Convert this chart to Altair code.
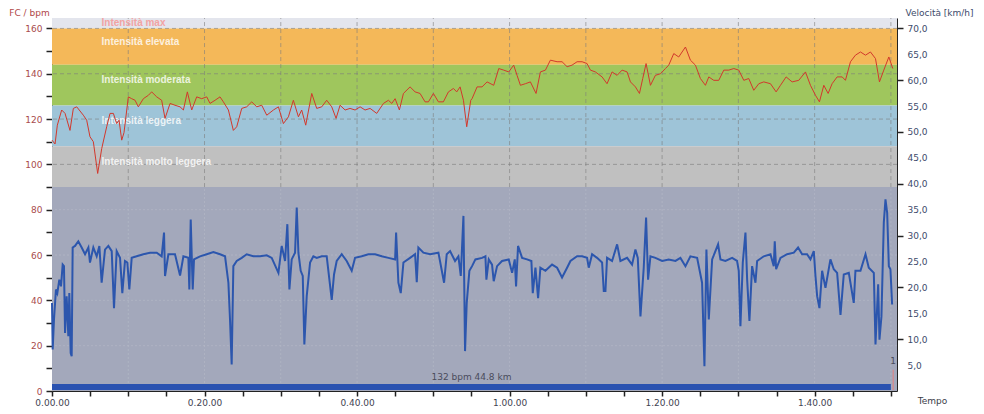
import altair as alt
import pandas as pd

# ---------------- data ----------------
# heart rate (bpm) vs elapsed time (minutes)
hr_time = [
    0.0, 0.40, 0.70, 1.27, 1.71, 2.36, 2.80, 3.24, 4.11, 4.55,
    4.98, 5.42, 5.99, 6.52, 7.17, 7.61, 8.05, 8.48, 8.79, 9.14,
    9.44, 10.01, 10.45, 10.89, 11.32, 11.98, 12.64, 13.07, 13.73, 14.38,
    14.82, 15.48, 16.13, 16.79, 17.23, 17.75, 18.32, 18.97, 19.63, 20.29,
    20.72, 21.38, 22.03, 22.47, 23.13, 23.78, 24.22, 24.88, 25.53, 26.19,
    26.84, 27.50, 28.16, 29.03, 29.69, 30.34, 31.00, 31.65, 32.31, 32.74,
    33.27, 34.06, 34.71, 35.37, 36.02, 36.68, 37.25, 37.77, 38.43, 39.08,
    39.74, 40.40, 41.05, 41.71, 42.58, 43.46, 44.11, 44.55, 44.99, 45.55,
    46.08, 46.95, 47.61, 48.26, 48.92, 49.36, 50.01, 50.67, 51.32, 51.98,
    52.64, 53.07, 53.51, 53.95, 54.38, 54.91,
    55.08, 55.74, 56.39, 57.05, 57.92, 58.58, 59.23, 59.89, 60.54, 60.98,
    61.42, 62.07, 62.73, 63.47, 64.04, 64.70, 65.35, 66.23, 66.88, 67.54,
    68.19, 68.85, 69.51, 70.16, 70.60, 71.25, 72.13, 72.78, 73.44, 74.10,
    74.75, 75.41, 75.85, 76.50, 77.03, 77.46, 77.90, 78.47, 79.12, 79.78,
    80.44, 80.87, 81.53, 82.18, 83.06, 83.71, 84.37, 85.02, 85.68, 86.12,
    86.77, 87.43, 88.09, 88.74, 89.40, 90.05, 90.71, 91.36, 92.02, 92.68,
    93.33, 94.21, 94.95, 95.52, 96.26, 97.05, 97.92, 98.80, 99.45, 100.11,
    100.63, 101.20, 101.77, 102.29, 102.95, 103.61, 104.04, 104.70, 105.35, 106.01,
    106.67, 107.32, 107.98, 108.50, 109.07, 109.73, 110.25,
]
hr_bpm = [
    110.7, 109, 117.3, 124, 122.5, 115, 124.7, 125.4, 121.7, 119.5,
    112.2, 110, 96, 107, 116.6, 122.5, 122.5, 118, 119.5, 110.7,
    114, 129.8, 129, 128.3, 125.4, 129, 130.5, 132, 129.8, 128.3,
    120.3, 126.9, 126.1, 125.4, 124, 132, 124, 129.8, 129, 129.8,
    126.9, 128.3, 129.8, 127.6, 124, 115, 116.6, 124.7, 125.4, 127.6,
    125.4, 126.1, 121.7, 124, 125.4, 118, 121, 128.3, 121, 124,
    117.3, 131.3, 124.7, 125.4, 128.3, 125.4, 120.3, 126.1, 124, 124.7,
    124, 125.4, 124, 124.7, 122.5, 126.9, 128.3, 126.9, 129, 124,
    131.3, 134.2, 132, 131.3, 127.6, 127.6, 131.3, 127.6, 127.6, 132,
    133.5, 132, 134.2, 128.3, 116.6, 128.3,
    129, 134.2, 134.2, 136.4, 134.9, 142.3, 141.6, 140.8, 143.8, 139.3,
    134.9, 135.6, 136.4, 131.3, 140.8, 141.6, 146, 145.3, 145.3, 143.1,
    143.8, 145.3, 145.3, 144.5, 141.6, 140.8, 138.6, 135.6, 140.8, 139.3,
    141.6, 140.8, 136.4, 134.2, 131.3, 137.9, 144.5, 134.9, 139.3, 140,
    142.3, 143.8, 148.9, 147.4, 151.8, 146, 143.8, 137.9, 134.9, 138.6,
    137.1, 137.1, 141.6, 141.6, 142.3, 141.6, 137.1, 137.9, 132.7, 135.6,
    136.4, 135.6, 132, 134.9, 138.6, 136.4, 137.1, 140.8, 134.9, 130.5,
    127.6, 134.9, 131.3, 135.6, 138.6, 138.6, 137.1, 145.3, 148.2, 149.6,
    148.2, 149.6, 146.7, 136.4, 141.6, 147.4, 142.3,
]

# speed (km/h) vs elapsed time (minutes)
speed_time = [
    0.0, 0.09, 0.26, 0.52, 0.70, 0.96, 1.18, 1.40, 1.57, 1.71,
    1.92, 2.14, 2.27, 2.45, 2.58, 2.71, 3.02, 3.45, 3.89, 4.33,
    4.77, 4.98, 5.42, 5.86, 6.21, 6.51, 6.95, 7.39, 7.83, 8.13,
    8.48, 8.92, 9.22, 9.57, 9.88, 10.14, 10.45, 11.10, 11.98, 12.85,
    13.73, 14.38, 14.69, 14.82, 15.26, 16.13, 16.79, 17.23, 17.88, 18.01,
    18.19, 18.45, 18.62, 19.41, 20.29, 21.16, 22.03, 22.69, 23.13, 23.35,
    23.56, 23.78, 24.22, 24.88, 25.53, 26.40, 27.28, 28.16, 28.81, 29.69,
    30.12, 30.56, 30.86, 31.13, 31.43, 31.87, 32.09, 32.31, 32.61, 32.88,
    33.09, 33.40, 33.84, 34.27, 34.71, 35.37, 36.02, 36.68, 36.98, 37.33,
    37.99, 38.64, 39.30, 39.74, 40.61, 41.49, 42.36, 43.24, 44.11, 44.99,
    45.12, 45.42, 45.73, 46.08, 46.95, 47.61, 47.83, 48.04, 48.70, 49.58,
    50.67, 51.41, 51.76, 52.20, 52.85, 53.29, 53.60, 53.95, 54.16, 54.38,
    54.73,
    55.08, 55.52, 56.39, 56.83, 56.96, 57.27, 57.70, 57.92, 58.36, 59.01,
    59.89, 60.33, 60.68, 60.85, 61.11, 61.64, 62.29, 62.86, 63.04, 63.39,
    63.74, 64.04, 64.70, 65.57, 66.23, 66.88, 67.54, 67.98, 68.85, 69.51,
    70.16, 70.38, 70.82, 71.47, 72.13, 72.35, 72.57, 72.78, 73.44, 74.10,
    74.53, 75.41, 76.06, 76.50, 76.81, 77.16, 77.59, 77.90, 78.16, 78.47,
    79.12, 80.00, 80.87, 81.75, 82.40, 83.06, 83.71, 84.59, 85.24, 85.55,
    85.81, 86.12, 86.56, 87.34, 87.65, 88.30, 89.18, 89.83, 90.05, 90.27,
    90.58, 90.93, 91.15, 91.45, 91.80, 92.24, 92.46, 93.33, 94.21, 94.64,
    94.77, 94.95, 95.52, 96.39, 97.27, 97.83, 98.36, 99.01, 99.45, 99.89,
    100.11, 100.33, 100.63, 100.98, 101.42, 102.07, 102.51, 102.95, 103.39, 103.82,
    104.48, 105.13, 105.35, 106.01, 106.67, 107.10, 107.76, 107.98, 108.33, 108.50,
    108.76, 109.07, 109.29, 109.51, 109.73, 109.94, 110.16,
]
speed_kmh = [
    17.0, 8.0, 13.8, 19.6, 18.9, 21.5, 20.2, 24.4, 24.1, 11.2,
    18.3, 10.6, 18.9, 7.3, 6.7, 27.7, 28.0, 28.9, 27.7, 26.4,
    27.7, 24.8, 27.7, 26.0, 28.0, 20.9, 27.3, 28.0, 27.0, 16.0,
    27.0, 25.7, 18.9, 25.1, 24.8, 19.6, 25.7, 26.0, 26.4, 26.7,
    26.7, 26.0, 30.6, 22.2, 26.4, 26.4, 22.3, 26.0, 25.7, 19.6,
    33.1, 19.6, 25.4, 26.0, 26.4, 26.8, 26.4, 26.0, 20.9, 13.5,
    5.1, 24.1, 25.1, 25.7, 26.4, 26.0, 26.0, 26.2, 25.7, 22.8,
    28.0, 25.1, 32.2, 19.6, 25.4, 26.7, 35.4, 26.7, 23.2, 22.2,
    9.0, 18.3, 24.8, 26.0, 25.7, 26.0, 26.0, 17.6, 22.5, 25.1,
    26.4, 25.1, 23.2, 25.7, 26.0, 26.4, 26.4, 26.0, 25.7, 25.4,
    30.6, 20.9, 18.9, 24.8, 25.7, 26.4, 21.0, 27.7, 26.7, 26.4,
    26.7, 20.9, 26.4, 27.0, 25.1, 26.0, 22.2, 33.8, 7.7, 17.0,
    23.2,
    24.1, 25.4, 25.7, 26.0, 21.5, 25.4, 24.4, 21.2, 24.1, 25.1,
    25.4, 22.8, 25.4, 20.2, 28.0, 25.7, 25.4, 25.1, 18.9, 23.8,
    17.9, 23.8, 23.2, 24.4, 23.8, 21.9, 23.8, 25.1, 26.0, 26.0,
    25.7, 23.8, 26.4, 25.7, 24.8, 19.3, 19.3, 25.7, 25.1, 28.3,
    25.1, 25.7, 24.4, 27.3, 25.7, 14.4, 23.8, 33.5, 21.5, 26.0,
    25.7, 25.1, 25.4, 25.1, 25.7, 24.1, 26.0, 25.7, 20.9, 4.8,
    27.3, 13.8, 25.4, 28.3, 25.4, 25.1, 25.7, 25.1, 23.2, 12.5,
    24.8, 30.6, 21.5, 13.5, 24.1, 20.9, 25.1, 26.0, 26.4, 24.1,
    28.9, 23.5, 25.7, 26.4, 26.7, 27.7, 26.4, 26.4, 25.4, 27.0,
    22.2, 18.3, 16.0, 23.2, 19.9, 25.4, 23.5, 22.8, 14.7, 22.5,
    22.8, 17.0, 23.2, 23.2, 26.4, 23.8, 22.8, 9.0, 20.6, 9.9,
    14.4, 32.5, 37.0, 34.4, 24.1, 23.5, 16.7,
]

# heart-rate zones (bpm)
band_names = ["Intensità max", "Intensità elevata", "Intensità moderata",
              "Intensità leggera", "Intensità molto leggera", "Base"]
band_low = [160, 144, 126, 108, 90, 0]
band_high = [164.6, 160, 144, 126, 108, 90]
band_colors = ["#e3e5ed", "#f4b859", "#9fc65d", "#9ec4d8", "#c0c0c0", "#a3a8bb"]

grid_bpm = [20, 40, 60, 80, 100, 120, 140, 160]
grid_min = [10, 20, 30, 40, 50, 60, 70, 80, 90, 100, 110]

lap_start = [0.0]
lap_end = [110.0]
lap_marker = [110.3]
lap_number = ["1"]
lap_summary = ["132 bpm 44.8 km"]

# ---------------- chart ----------------
FONT = "DejaVu Sans"
X_SCALE = alt.Scale(domain=[0, 110.8], nice=False, zero=False)
YL_SCALE = alt.Scale(domain=[0, 164.6], nice=False, zero=False)
YR_SCALE = alt.Scale(domain=[0, 72.0], nice=False, zero=False)

AX_X = alt.Axis(
    values=list(range(0, 111, 5)),
    labelExpr="datum.value % 20 == 0 ? floor(datum.value / 60) + '.' + (datum.value % 60 < 10 ? '0' : '') + (datum.value % 60) + '.00' : ''",
    title="Tempo", titleX=880, titleY=9, titleAlign="center", titleBaseline="middle",
    titleFont=FONT, titleFontSize=9, titleFontWeight="normal", titleColor="#3a3d48",
    labelFont=FONT, labelFontSize=9, labelColor="#3f4452", labelPadding=2,
    labelOverlap=False, labelFlush=False, labelBound=False,
    tickSize=5, tickWidth=1.5, tickColor="#222222", domainColor="#222222", grid=False,
)
AX_L = alt.Axis(
    values=list(range(0, 161, 10)),
    labelExpr="datum.value % 20 == 0 ? '' + datum.value : ''",
    title="FC / bpm", titleAngle=0, titleX=-23, titleY=-6, titleAlign="center",
    titleBaseline="middle", titleFont=FONT, titleFontSize=9, titleFontWeight="normal",
    titleColor="#b04848",
    labelFont=FONT, labelFontSize=9, labelColor="#a84c4c", labelPadding=4,
    labelOverlap=False, labelBound=False,
    tickSize=6, tickWidth=1.5, tickColor="#222222", domainColor="#222222", grid=False,
)
AX_R = alt.Axis(
    orient="right",
    values=list(range(5, 71, 5)),
    labelExpr="replace(format(datum.value, '.1f'), '.', ',')",
    title="Velocità [km/h]", titleAngle=0, titleX=42, titleY=-6, titleAlign="center",
    titleBaseline="middle", titleFont=FONT, titleFontSize=9, titleFontWeight="normal",
    titleColor="#3d4b6b",
    labelFont=FONT, labelFontSize=9, labelColor="#3d4b6b", labelPadding=4,
    labelOverlap=False, labelBound=False,
    tickSize=6, tickWidth=1.5, tickColor="#222222", domainColor="#222222", grid=False,
    tickOpacity={"condition": {"test": "datum.value % 10 == 0", "value": 1}, "value": 0},
)

bands_df = pd.DataFrame({"name": band_names, "low": band_low, "high": band_high})
hr_df = pd.DataFrame({"t": hr_time, "bpm": hr_bpm})
sp_df = pd.DataFrame({"t": speed_time, "kmh": speed_kmh})
hgrid_df = pd.DataFrame({"v": grid_bpm})
vgrid_df = pd.DataFrame({"m": grid_min})
lap_df = pd.DataFrame({"start": lap_start, "end": lap_end, "mark": lap_marker,
                       "num": lap_number, "summary": lap_summary})

bands = alt.Chart(bands_df).mark_rect().encode(
    y=alt.Y("low:Q", scale=YL_SCALE, axis=AX_L),
    y2="high:Q",
    color=alt.Color("name:N", scale=alt.Scale(domain=band_names, range=band_colors), legend=None),
)

# grid: darker dashes over the zone bands, faint ones over the lower area
hgrid_hi = alt.Chart(hgrid_df).transform_filter("datum.v >= 100").mark_rule(
    strokeDash=[4, 3], color="#7d7d7d", opacity=0.6, strokeWidth=1
).encode(y=alt.Y("v:Q", scale=YL_SCALE, axis=AX_L))
hgrid_lo = alt.Chart(hgrid_df).transform_filter("datum.v < 100").mark_rule(
    strokeDash=[2, 2], color="#b4b8c6", opacity=0.7, strokeWidth=1
).encode(y=alt.Y("v:Q", scale=YL_SCALE, axis=AX_L))
vgrid_hi = alt.Chart(vgrid_df).transform_calculate(g0="90", g1="164.6").mark_rule(
    strokeDash=[4, 3], color="#7d7d7d", opacity=0.6, strokeWidth=1
).encode(
    x=alt.X("m:Q", scale=X_SCALE, axis=AX_X),
    y=alt.Y("g0:Q", scale=YL_SCALE, axis=AX_L), y2="g1:Q",
)
vgrid_lo = alt.Chart(vgrid_df).transform_calculate(g0="0", g1="90").mark_rule(
    strokeDash=[2, 2], color="#b4b8c6", opacity=0.7, strokeWidth=1
).encode(
    x=alt.X("m:Q", scale=X_SCALE, axis=AX_X),
    y=alt.Y("g0:Q", scale=YL_SCALE, axis=AX_L), y2="g1:Q",
)

label_base = alt.Chart(bands_df).transform_filter("datum.name != 'Base'").transform_calculate(
    ly="min((datum.low + datum.high) / 2 + 2.2, datum.high - 2)", lx="6.5"
)
labels_white = label_base.transform_filter("datum.name != 'Intensità max'").mark_text(
    align="left", baseline="middle", font="Liberation Sans", fontSize=10, fontWeight="bold",
    color="#ffffff", opacity=0.8,
).encode(
    x=alt.X("lx:Q", scale=X_SCALE, axis=AX_X),
    y=alt.Y("ly:Q", scale=YL_SCALE, axis=AX_L),
    text="name:N",
)
labels_max = label_base.transform_filter("datum.name == 'Intensità max'").mark_text(
    align="left", baseline="middle", font="Liberation Sans", fontSize=10, fontWeight="bold",
    color="#f2a3a3",
).encode(
    x=alt.X("lx:Q", scale=X_SCALE, axis=AX_X),
    y=alt.Y("ly:Q", scale=YL_SCALE, axis=AX_L),
    text="name:N",
)

hr_line = alt.Chart(hr_df).mark_line(color="#d2382c", strokeWidth=1).encode(
    x=alt.X("t:Q", scale=X_SCALE, axis=AX_X),
    y=alt.Y("bpm:Q", scale=YL_SCALE, axis=AX_L),
)

lap_bar = alt.Chart(lap_df).transform_calculate(y0="0.4", y1="3.1").mark_rect(color="#2a52b0").encode(
    x=alt.X("start:Q", scale=X_SCALE, axis=AX_X),
    x2="end:Q",
    y=alt.Y("y0:Q", scale=YL_SCALE, axis=AX_L),
    y2="y1:Q",
)
lap_text = alt.Chart(lap_df).transform_calculate(
    mid="(datum.start + datum.end) / 2", ty="6.0"
).mark_text(font=FONT, fontSize=9, color="#4a4c5c", baseline="middle").encode(
    x=alt.X("mid:Q", scale=X_SCALE, axis=AX_X),
    y=alt.Y("ty:Q", scale=YL_SCALE, axis=AX_L),
    text="summary:N",
)
lap_rule = alt.Chart(lap_df).transform_calculate(r0="0.4", r1="9.4").mark_rule(
    color="#e58080", strokeWidth=1
).encode(
    x=alt.X("mark:Q", scale=X_SCALE, axis=AX_X),
    y=alt.Y("r0:Q", scale=YL_SCALE, axis=AX_L),
    y2="r1:Q",
)
lap_num = alt.Chart(lap_df).transform_calculate(ny="13.4").mark_text(
    font=FONT, fontSize=9, color="#4a4c5c", baseline="middle"
).encode(
    x=alt.X("mark:Q", scale=X_SCALE, axis=AX_X),
    y=alt.Y("ny:Q", scale=YL_SCALE, axis=AX_L),
    text="num:N",
)

left = alt.layer(bands, hgrid_lo, vgrid_lo, hgrid_hi, vgrid_hi, labels_white, labels_max,
                 hr_line, lap_bar, lap_text, lap_rule, lap_num)

speed_line = alt.Chart(sp_df).mark_line(color="#2c56ad", strokeWidth=2, strokeJoin="miter").encode(
    x=alt.X("t:Q", scale=X_SCALE, axis=AX_X),
    y=alt.Y("kmh:Q", scale=YR_SCALE, axis=AX_R),
)

chart = alt.layer(left, speed_line).resolve_scale(y="independent").properties(
    width=845, height=373,
    padding={"left": 44, "top": 10, "right": 79, "bottom": 15},
    autosize=alt.AutoSizeParams(type="none"),
    background="white",
).configure_view(stroke="#2a2a2a", strokeWidth=1).configure(font=FONT)

chart.save("out.html", embed_options={"renderer": "svg", "actions": False})
